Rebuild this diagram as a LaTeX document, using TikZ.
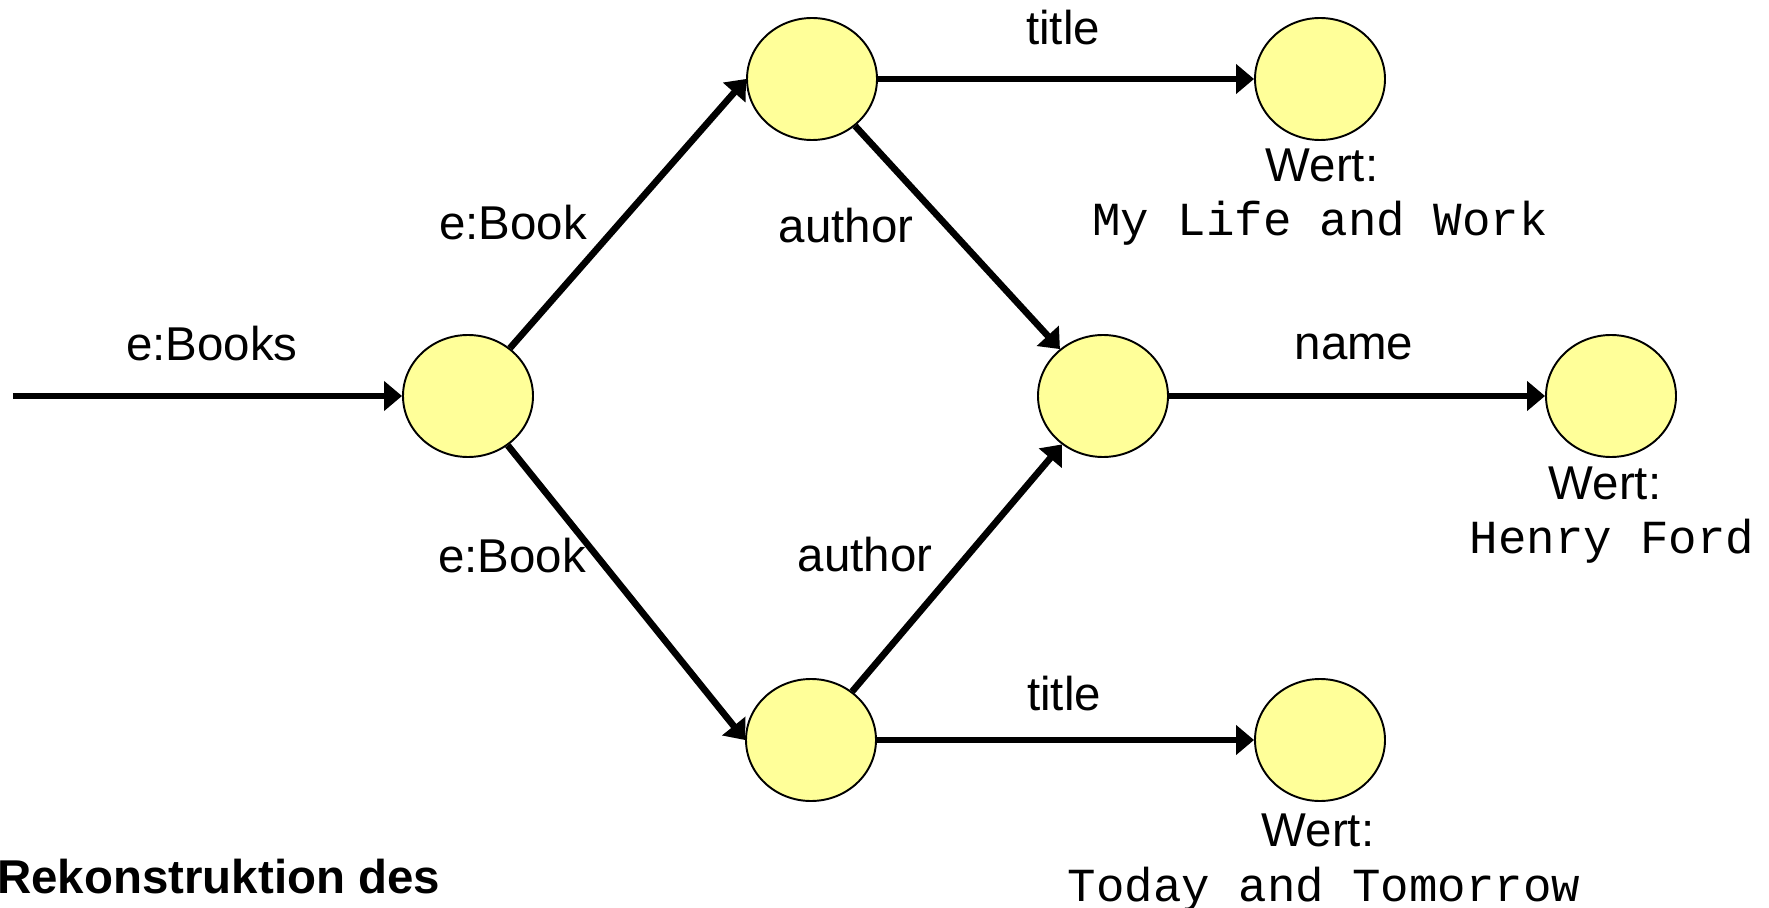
\documentclass[tikz,border=0pt]{standalone}
\usepackage{fontspec}
\setmainfont{Liberation Sans}
\setmonofont{Liberation Mono}
\usepackage{tikz}
\usetikzlibrary{arrows.meta,positioning,shapes.geometric}
\definecolor{knotgelb}{HTML}{FFFF99}

\begin{document}
\begin{tikzpicture}[
  knot/.style={ellipse,draw=black,line width=1.1pt,fill=knotgelb,minimum width=2.6cm,minimum height=2.44cm,inner sep=0pt},
  kante/.style={line width=3.8pt,-{Triangle[length=0.36cm,width=0.58cm]}},
  lbl/.style={inner sep=0pt,font=\fontsize{27}{32}\selectfont},
  wert/.style={inner sep=0pt,font=\fontsize{27}{32}\selectfont\ttfamily}]
\useasboundingbox (0,0) rectangle (35.38,-18.16);
\coordinate (S) at (0.26,-7.92);
\node[knot] (R) at (9.36,-7.92) {};
\node[knot] (B1) at (16.24,-1.58) {};
\node[knot] (B2) at (16.22,-14.80) {};
\node[knot] (A) at (22.06,-7.92) {};
\node[knot] (T1) at (26.40,-1.58) {};
\node[knot] (N) at (32.22,-7.92) {};
\node[knot] (T2) at (26.40,-14.80) {};
\draw[kante] (S) -- (R.west);
\draw[kante] (R) -- (B1.west);
\draw[kante] (R) -- (B2.west);
\draw[kante] (B1) -- (A);
\draw[kante] (B2) -- (A);
\draw[kante] (B1.east) -- (T1.west);
\draw[kante] (A.east) -- (N.west);
\draw[kante] (B2.east) -- (T2.west);
\node[lbl] (lS) at (4.24,-6.88) {e:Books};
\node[lbl] (lB1) at (10.26,-4.46) {e:Book};
\node[lbl] (lB2) at (10.24,-11.12) {e:Book};
\node[lbl] (lA1) at (16.92,-4.52) {author};
\node[lbl] (lA2) at (17.30,-11.10) {author};
\node[lbl] (lT1) at (21.26,-0.56) {title};
\node[lbl] (lN) at (27.08,-6.94) {name};
\node[lbl] (lT2) at (21.28,-13.88) {title};
\node[lbl] (w1) at (26.44,-3.30) {Wert:};
\node[wert] (v1) at (26.40,-4.46) {My Life and Work};
\node[lbl] (w2) at (32.10,-9.66) {Wert:};
\node[wert] (v2) at (32.24,-10.82) {Henry Ford};
\node[lbl] (w3) at (26.36,-16.60) {Wert:};
\node[wert] (v3) at (26.48,-17.78) {Today and Tomorrow};
\node[lbl,anchor=base west,font=\fontsize{27}{32}\selectfont\bfseries] (cap) at (-0.06,-17.86) {Rekonstruktion des};
\end{tikzpicture}
\end{document}
